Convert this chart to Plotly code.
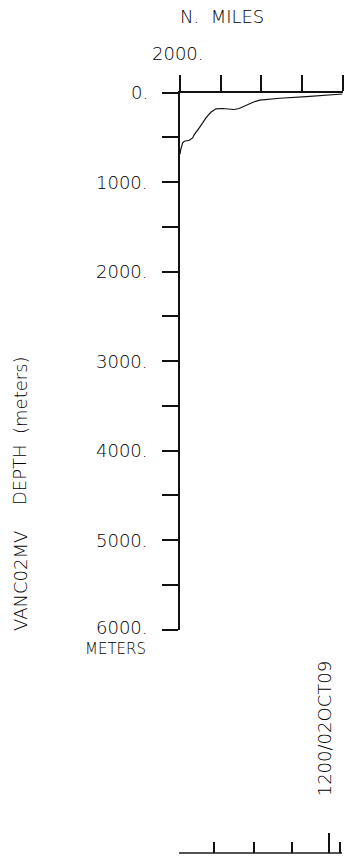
import plotly.graph_objects as go

# Along-track distance (N. miles, counting down to 0) and bottom depth (m)
distance_nmi = [2000, 1991, 1967, 1947, 1886, 1844, 1825, 1783, 1763, 1721,
                1681, 1620, 1558, 1476, 1395, 1334, 1272, 1190, 1101, 1018,
                773, 445, 37, 0]
depth_m = [690, 638, 563, 545, 534, 507, 470, 425, 395, 339,
           283, 221, 182, 179, 182, 190, 179, 146, 109, 86,
           64, 45, 22, 17]

# Axis ticks
distance_ticks = [2000, 1500, 1000, 500, 0]
depth_ticks = [0, 500, 1000, 1500, 2000, 2500, 3000, 3500, 4000, 4500, 5000, 5500, 6000]
depth_labels = [0, 1000, 2000, 3000, 4000, 5000, 6000]

# Time axis (days relative to 1200/02OCT09)
time_range = [-3.916, 0.3185]
time_ticks = [-3.0, -1.97, -0.97, 0.28]
time_mark = [0.0]
time_mark_label = "1200/02OCT09"

W, H = 344, 858
FONT = "DejaVu Sans ExtraLight, DejaVu Sans, sans-serif"
INK = "#111111"
TXT = "#000000"


def px_x(p):
    return p / W


def px_y(p):
    return 1 - p / H


fig = go.Figure()

fig.add_trace(go.Scatter(
    x=distance_nmi, y=depth_m, mode="lines",
    line=dict(color=INK, width=1.2),
    showlegend=False, hoverinfo="skip",
))

# Invisible trace so the time axis gets drawn
fig.add_trace(go.Scatter(
    x=time_range, y=[None, None], xaxis="x2", yaxis="y2", mode="lines",
    showlegend=False, hoverinfo="skip",
))

fig.update_layout(
    width=W, height=H,
    margin=dict(l=0, r=0, t=0, b=0),
    paper_bgcolor="white", plot_bgcolor="rgba(0,0,0,0)",
    font=dict(family=FONT, size=18, color=TXT, weight=200),
    xaxis=dict(
        domain=[px_x(180), px_x(342.5)], range=[2000, 0],
        side="top", anchor="y",
        showline=True, linecolor=INK, linewidth=1.5,
        ticks="outside", ticklen=16, tickwidth=1.5, tickcolor=INK,
        tickmode="array", tickvals=distance_ticks,
        showticklabels=False, showgrid=False, zeroline=False,
    ),
    yaxis=dict(
        domain=[px_y(629.5), px_y(92.5)], range=[6000, 0],
        showline=True, linecolor=INK, linewidth=1.5,
        ticks="outside", ticklen=16, tickwidth=1.5, tickcolor=INK,
        tickmode="array", tickvals=depth_ticks,
        showticklabels=False, showgrid=False, zeroline=False,
    ),
    xaxis2=dict(
        domain=[px_x(179.3), px_x(341.5)], range=time_range,
        anchor="y2", side="bottom",
        showline=True, linecolor="#555", linewidth=1.5,
        ticks="inside", ticklen=11, tickwidth=1.5, tickcolor=INK,
        tickmode="array", tickvals=time_ticks,
        minor=dict(tickmode="array", tickvals=time_mark, ticks="inside",
                   ticklen=20, tickwidth=1.5, tickcolor=INK),
        showticklabels=False, showgrid=False, zeroline=False,
    ),
    yaxis2=dict(
        domain=[px_y(852.3), px_y(830)], range=[0, 1],
        anchor="x2", visible=False,
    ),
)

ann = []
# Depth tick labels (the last one is nudged up to make room for the units line)
for v in depth_labels:
    a = dict(text=f"{v}.", xref="paper", x=px_x(150), xanchor="right",
             yref="y", y=v, yanchor="middle", showarrow=False)
    if v == depth_labels[-1]:
        a.update(yshift=2.5)
    ann.append(a)
ann.append(dict(text="METERS", xref="paper", x=px_x(148), xanchor="right",
                yref="paper", y=px_y(649), yanchor="middle", showarrow=False,
                font=dict(size=15)))
# Distance axis title and start label
ann.append(dict(text="N.  MILES", xref="paper", x=px_x(222), xanchor="center",
                yref="paper", y=px_y(16.5), yanchor="middle", showarrow=False))
ann.append(dict(text=f"{distance_ticks[0]}.", xref="x", x=distance_ticks[0], xshift=-2,
                xanchor="center", yref="paper", y=px_y(54), yanchor="middle",
                showarrow=False))
# Vertical titles
for t, yc in [("VANC02MV", 581), ("DEPTH", 475), ("(meters)", 395)]:
    ann.append(dict(text=t, textangle=-90, xref="paper", x=px_x(20), xanchor="center",
                    yref="paper", y=px_y(yc), yanchor="middle", showarrow=False))
# Time mark label
ann.append(dict(text=time_mark_label, textangle=-90, xref="x2", x=time_mark[0],
                xshift=-5, xanchor="center", yref="paper", y=px_y(729),
                yanchor="middle", showarrow=False))

fig.update_layout(annotations=ann)

fig.write_html("out.html")
